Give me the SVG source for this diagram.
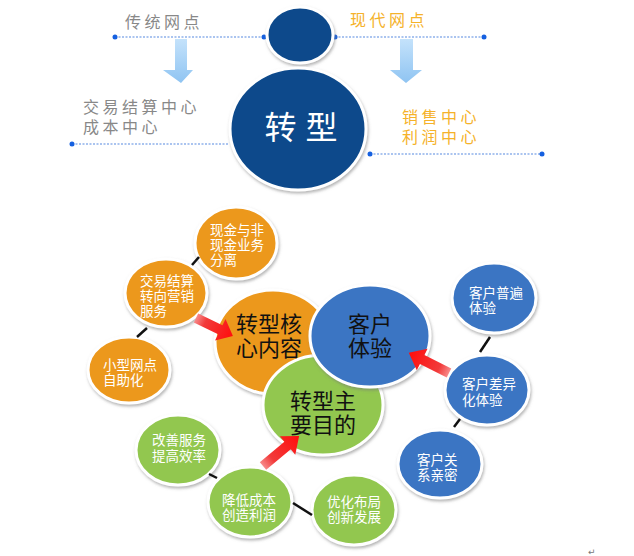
<svg xmlns="http://www.w3.org/2000/svg" width="634" height="556" viewBox="0 0 634 556">
<defs>
<filter id="sh" x="-20%" y="-20%" width="140%" height="140%">
<feDropShadow dx="1" dy="2" stdDeviation="1.5" flood-color="#777" flood-opacity="0.55"/>
</filter>
<linearGradient id="lb" x1="0" y1="0" x2="0" y2="1">
<stop offset="0" stop-color="#c4e2fb"/>
<stop offset="1" stop-color="#8fc4f2"/>
</linearGradient>
<linearGradient id="rd" x1="0" y1="0" x2="1" y2="0">
<stop offset="0" stop-color="#f78a8a"/>
<stop offset="0.25" stop-color="#f23a3a"/>
<stop offset="1" stop-color="#ff0d0d"/>
</linearGradient>
</defs>
<style>
.ring{stroke:#fff;stroke-width:3;filter:url(#sh)}
.dk{fill:#0d4a8b}
.or{fill:#ec981c}
.bl{fill:#3a75c3}
.gr{fill:#92c750}
.sm{font-family:"Liberation Sans","Noto Sans CJK SC",sans-serif;font-size:13.5px;fill:#fff}
.bg{font-family:"Liberation Sans","Noto Sans CJK SC",sans-serif;font-size:22px;fill:#111;text-anchor:middle}
.lbl{font-family:"Liberation Sans","Noto Sans CJK SC",sans-serif;font-size:16px;letter-spacing:3.5px}
.gy{fill:#888}
.yo{fill:#f5b22a}
.dot{stroke:#2a6bd8;stroke-width:1;stroke-dasharray:2 1.5;fill:none;opacity:0.8}
.dp{fill:#1560e0}
.ln{stroke:#111;stroke-width:2.5}
.ra{fill:url(#rd)}
</style>

<!-- top section -->
<g id="top-lines">
<line class="dot" x1="115" y1="37" x2="264" y2="37"/>
<circle class="dp" cx="115" cy="37" r="2.5"/><circle class="dp" cx="264" cy="37" r="2.5"/>
<line class="dot" x1="335" y1="37" x2="484" y2="37"/>
<circle class="dp" cx="335" cy="37" r="2.5"/><circle class="dp" cx="484" cy="37" r="2.5"/>
<line class="dot" x1="72" y1="144" x2="228" y2="144"/>
<circle class="dp" cx="72" cy="144" r="2.5"/>
<line class="dot" x1="370" y1="154" x2="542" y2="154"/>
<circle class="dp" cx="370" cy="154" r="2.5"/><circle class="dp" cx="542" cy="154" r="2.5"/>
</g>
<g id="top-arrows">
<polygon fill="url(#lb)" points="175,39 187,39 187,70 193,70 181,83 163,70 175,70"/>
<polygon fill="url(#lb)" points="400,39 413,39 413,70 422,70 406,83 390,70 400,70"/>
</g>
<g id="small-circle">
<ellipse class="ring dk" cx="300" cy="35" rx="33" ry="28"/>
</g>
<g id="transform">
<ellipse class="ring dk" cx="298" cy="129" rx="68" ry="61"/>
<text x="301" y="139" font-family="'Liberation Sans','Noto Sans CJK SC',sans-serif" font-size="32" fill="#fff" text-anchor="middle">转 型</text>
</g>
<g id="traditional">
<text class="lbl gy" x="125" y="28">传统网点</text>
<text class="lbl gy" x="83" y="113">交易结算中心</text>
<text class="lbl gy" x="83" y="133">成本中心</text>
</g>
<g id="modern">
<text class="lbl yo" x="350" y="26">现代网点</text>
<text class="lbl yo" x="402" y="123">销售中心</text>
<text class="lbl yo" x="402" y="143">利润中心</text>
</g>

<!-- lower section -->
<g id="core">
<ellipse class="ring or" cx="273" cy="342" rx="58" ry="52"/>
<text class="bg"><tspan x="269" y="332">转型核</tspan><tspan x="269" y="356">心内容</tspan></text>
</g>
<g id="goal">
<ellipse class="ring gr" cx="323" cy="405" rx="60" ry="50"/>
<text class="bg"><tspan x="323" y="409">转型主</tspan><tspan x="323" y="433">要目的</tspan></text>
</g>
<g id="experience">
<ellipse class="ring bl" cx="370" cy="336" rx="60" ry="51"/>
<text class="bg"><tspan x="370" y="332">客户</tspan><tspan x="370" y="356">体验</tspan></text>
</g>

<g id="cash">
<ellipse class="ring or" cx="236" cy="243" rx="41" ry="36"/>
<text class="sm"><tspan x="210" y="235">现金与非</tspan><tspan x="210" y="250">现金业务</tspan><tspan x="210" y="265">分离</tspan></text>
</g>
<g id="settle">
<ellipse class="ring or" cx="166" cy="293" rx="41" ry="34"/>
<text class="sm"><tspan x="140" y="286">交易结算</tspan><tspan x="140" y="301">转向营销</tspan><tspan x="140" y="316">服务</tspan></text>
</g>
<g id="self">
<ellipse class="ring or" cx="129" cy="370" rx="41" ry="33"/>
<text class="sm"><tspan x="103" y="369.5">小型网点</tspan><tspan x="103" y="385">自助化</tspan></text>
</g>

<g id="general">
<ellipse class="ring bl" cx="494" cy="298" rx="42" ry="35"/>
<text class="sm"><tspan x="469" y="297.5">客户普遍</tspan><tspan x="469" y="313">体验</tspan></text>
</g>
<g id="diff">
<ellipse class="ring bl" cx="487" cy="390" rx="42" ry="35"/>
<text class="sm"><tspan x="462" y="389">客户差异</tspan><tspan x="462" y="404.5">化体验</tspan></text>
</g>
<g id="close">
<ellipse class="ring bl" cx="440" cy="464" rx="42" ry="34"/>
<text class="sm"><tspan x="417" y="464.5">客户关</tspan><tspan x="417" y="480">系亲密</tspan></text>
</g>

<g id="service">
<ellipse class="ring gr" cx="178" cy="450" rx="42" ry="35"/>
<text class="sm"><tspan x="152" y="445">改善服务</tspan><tspan x="152" y="460.5">提高效率</tspan></text>
</g>
<g id="cost">
<ellipse class="ring gr" cx="250" cy="502" rx="42" ry="35"/>
<text class="sm"><tspan x="222" y="504.5">降低成本</tspan><tspan x="222" y="520">创造利润</tspan></text>
</g>
<g id="layout">
<ellipse class="ring gr" cx="354" cy="510" rx="42" ry="35"/>
<text class="sm"><tspan x="327" y="506.5">优化布局</tspan><tspan x="327" y="522">创新发展</tspan></text>
</g>

<g id="connectors">
<line class="ln" x1="192" y1="265" x2="199" y2="257"/>
<line class="ln" x1="137" y1="337" x2="147" y2="328"/>
<line class="ln" x1="480" y1="352" x2="490" y2="337"/>
<line class="ln" x1="454" y1="427" x2="460" y2="419"/>
<line class="ln" x1="209" y1="474" x2="217" y2="478"/>
<line class="ln" x1="293" y1="503" x2="312" y2="515"/>
<polygon class="ra" points="0,-5 27,-5 27,-12 41,0 27,12 27,5 0,5" transform="translate(196,318) rotate(25.9)"/>
<polygon class="ra" points="0,-5 32,-5 32,-12 47,0 32,12 32,5 0,5" transform="translate(263,466) rotate(-39.8)"/>
<polygon class="ra" points="0,-5 30,-5 30,-12 45,0 30,12 30,5 0,5" transform="translate(449,373) rotate(206.6)"/>
</g>
<text x="588" y="555" font-family="'DejaVu Sans',sans-serif" font-size="9" fill="#777">↵</text>
</svg>
